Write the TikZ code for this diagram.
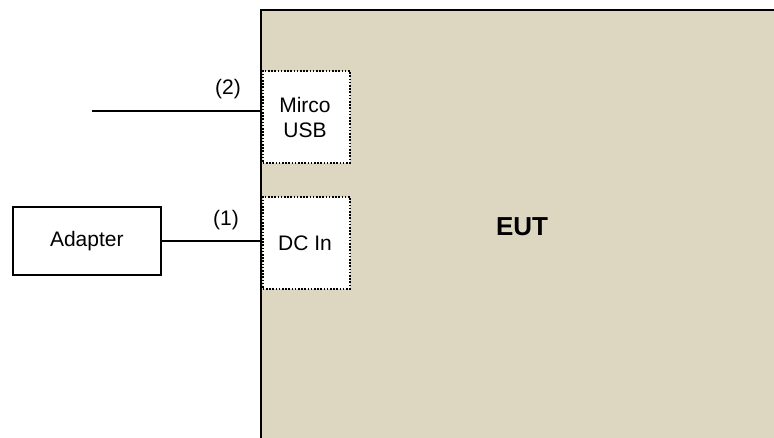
\documentclass[tikz,border=0pt]{standalone}
\usepackage{fontspec}
\setmainfont{Liberation Sans}
\definecolor{eutfill}{RGB}{221,215,193}
\begin{document}
\begin{tikzpicture}[x=1pt,y=-1pt,
  txt/.style={font=\fontsize{21}{25}\selectfont, inner sep=0pt, align=center},
  portbox/.style={draw=black, fill=white, dash pattern=on 1.6pt off 1.6pt, line width=1.6pt, minimum width=87pt, minimum height=92pt, inner sep=0pt, anchor=north west},
  wire/.style={draw=black, line width=1.6pt}]
\useasboundingbox (0,0) rectangle (774,437);
\begin{scope}
\clip (0,0) rectangle (774,437);
\fill[eutfill] (261,10) rectangle (790,450);
\draw[line width=2.2pt] (261,450) -- (261,10) -- (790,10);
\end{scope}
\node[portbox] (usb) at (262,70) {};
\node[txt] (usbt) at (305,117) {Mirco\\USB};
\node[portbox] (dc) at (262,196) {};
\node[txt] (dct) at (305,243) {DC In};
\node[draw=black, line width=1.6pt, minimum width=148pt, minimum height=68pt, inner sep=0pt, anchor=north west] (adapter) at (12,206) {};
\node[txt] at (adapter.center) {Adapter};
\node[font=\bfseries\fontsize{26}{30}\selectfont, inner sep=0pt] (eut) at (522,227) {EUT};
\coordinate (free2) at (92,111);
\coordinate (usbin) at (261,111);
\coordinate (dcin) at (261,241);
\draw[wire] (free2) -- (usbin);
\draw[wire] (adapter.east |- dcin) -- (dcin);
\node[txt] (l2) at (228,89) {(2)};
\node[txt] (l1) at (226,220) {(1)};
\end{tikzpicture}
\end{document}
